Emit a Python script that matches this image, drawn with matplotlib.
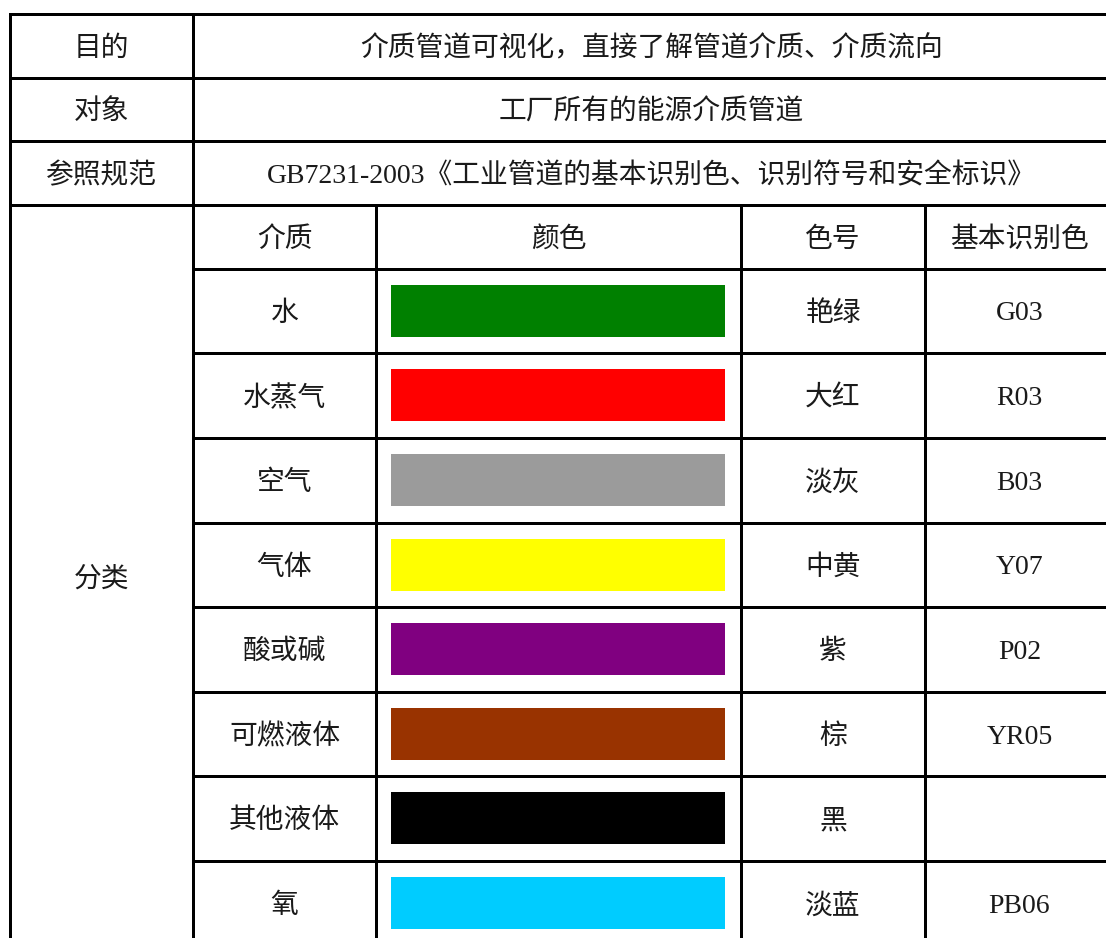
"""Pipe medium colour identification table (GB7231-2003), drawn as a matplotlib figure."""

import matplotlib
matplotlib.use("Agg")
import matplotlib.pyplot as plt
from matplotlib.patches import Rectangle

plt.rcParams["font.family"] = ["Liberation Serif", "Noto Sans CJK SC", "DejaVu Sans"]

# ---------------------------------------------------------------------------
# Table content
# ---------------------------------------------------------------------------
head_labels = ["目的", "对象", "参照规范"]
head_texts = [
    "介质管道可视化，直接了解管道介质、介质流向",
    "工厂所有的能源介质管道",
    "GB7231-2003《工业管道的基本识别色、识别符号和安全标识》",
]
group_label = "分类"
col_titles = ["介质", "颜色", "色号", "基本识别色"]

media = ["水", "水蒸气", "空气", "气体", "酸或碱", "可燃液体", "其他液体", "氧"]
swatch_colors = ["#008000", "#ff0000", "#9b9b9b", "#ffff00",
                 "#800080", "#993300", "#000000", "#00ccff"]
color_names = ["艳绿", "大红", "淡灰", "中黄", "紫", "棕", "黑", "淡蓝"]
color_codes = ["G03", "R03", "B03", "Y07", "P02", "YR05", "", "PB06"]

# ---------------------------------------------------------------------------
# Layout (pixel grid of the page)
# ---------------------------------------------------------------------------
W, H = 1106, 938
x_cols = [10, 193, 376, 741, 925, 1120]      # vertical rule positions
y_head = [14, 78, 141, 205]                  # rows of the header block
y_sub = [205, 269, 353, 438, 523, 607, 692, 776, 861, 946]
LW = 3
FS = 20
DY = 3                                       # text baseline nudge
TXT = "#1a1a1a"
TKW = dict(ha="center", va="center", fontsize=FS, color=TXT, fontweight="light")

fig = plt.figure(figsize=(W / 100, H / 100), dpi=100)
ax = fig.add_axes([0, 0, 1, 1])
ax.set_xlim(0, W)
ax.set_ylim(H, 0)
ax.axis("off")


def hline(y, x0, x1):
    ax.plot([x0, x1], [y, y], color="black", lw=LW * 0.72, solid_capstyle="projecting")


def vline(x, y0, y1):
    ax.plot([x, x], [y0, y1], color="black", lw=LW * 0.72, solid_capstyle="projecting")


# header block rules
for y in y_head:
    hline(y, x_cols[0], x_cols[-1])
vline(x_cols[0], y_head[0], H + 10)
vline(x_cols[1], y_head[0], H + 10)

# sub table rules
for y in y_sub[1:-1]:
    hline(y, x_cols[1], x_cols[-1])
for x in x_cols[2:5]:
    vline(x, y_sub[0], H + 10)

# header text
for i, (lab, txt) in enumerate(zip(head_labels, head_texts)):
    yc = (y_head[i] + y_head[i + 1]) / 2 + DY
    ax.text((x_cols[0] + x_cols[1]) / 2, yc, lab, **TKW)
    ax.text((x_cols[1] + 1106) / 2 + 2, yc, txt, **TKW)

# group label
ax.text((x_cols[0] + x_cols[1]) / 2, (y_sub[0] + 938) / 2 + 8, group_label, **TKW)

# column titles
col_centers = [(x_cols[1] + x_cols[2]) / 2, (x_cols[2] + x_cols[3]) / 2,
               (x_cols[3] + x_cols[4]) / 2, (x_cols[4] + 1106) / 2 + 4]
yc = (y_sub[0] + y_sub[1]) / 2 + DY
for xc, t in zip(col_centers, col_titles):
    ax.text(xc, yc, t, **TKW)

# body rows
for i, (m, c, n, code) in enumerate(zip(media, swatch_colors, color_names, color_codes)):
    y0, y1 = y_sub[i + 1], y_sub[i + 2]
    yc = (y0 + y1) / 2 + DY
    ax.text(col_centers[0], yc, m, **TKW)
    ax.add_patch(Rectangle((391, y0 + 16), 334, 52, facecolor=c, edgecolor="none"))
    ax.text(col_centers[2], yc, n, **TKW)
    ax.text(col_centers[3], yc, code, **TKW)

fig.savefig("out.png", dpi=100, facecolor="white")
